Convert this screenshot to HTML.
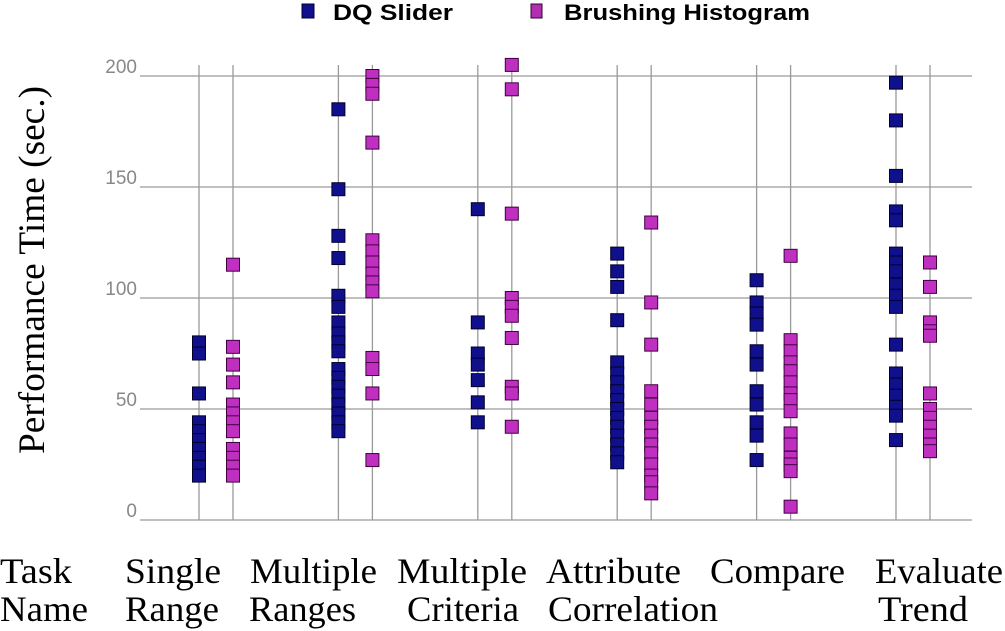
<!DOCTYPE html>
<html><head><meta charset="utf-8"><style>
html,body{margin:0;padding:0;background:#fff;}
svg{display:block;}
</style></head><body>
<svg id="chart" width="1005" height="631" xmlns="http://www.w3.org/2000/svg">
<g id="legend">
  <rect x="302" y="4" width="12" height="14" fill="#10108c" stroke="#000033"/>
  <text x="333" y="20" font-family="Liberation Sans, sans-serif" font-weight="bold" font-size="22" textLength="120" lengthAdjust="spacingAndGlyphs">DQ Slider</text>
  <rect x="531" y="4" width="11" height="14" fill="#b030b0" stroke="#330033"/>
  <text x="564" y="20" font-family="Liberation Sans, sans-serif" font-weight="bold" font-size="22" textLength="246" lengthAdjust="spacingAndGlyphs">Brushing Histogram</text>
</g>
<g id="grid"></g>
<g id="marks"></g>
<text transform="translate(44,270) rotate(-90)" text-anchor="middle" font-family="Liberation Serif, serif" font-size="37" textLength="368" lengthAdjust="spacingAndGlyphs">Performance Time (sec.)</text>
<g id="xlabels" font-family="Liberation Serif, serif" font-size="36"></g>
</svg>
<script>
const categories = ["Single Range","Multiple Ranges","Multiple Criteria","Attribute Correlation","Compare","Evaluate Trend"];
const yTicks = [0,50,100,150,200];
const dqSlider = [
  [80,75,57,44,40,36,32,28,24,20],
  [185,149,128,118,101,96,89,84,80,76,68,64,60,56,52,48,44,40],
  [140,89,75,70,63,53,44],
  [120,112,105,90,71,66,62,58,54,50,46,42,38,34,30,26],
  [108,98,93,88,76,70,58,52,44,38,27],
  [197,180,155,139,135,120,116,112,106,101,96,79,66,61,56,51,47,36]
];
const brushingHistogram = [
  [115,78,70,62,52,48,44,40,32,28,24,20],
  [200,196,192,170,126,121,116,111,107,103,73,68,57,27],
  [205,194,138,100,96,92,82,60,57,42],
  [134,98,79,58,52,46,42,38,34,30,25,20,17,12],
  [119,81,76,71,67,62,57,54,49,39,34,28,25,22,6],
  [116,105,89,85,83,57,50,46,42,38,34,31]
];
const labelLine1 = ["Single","Multiple","Multiple","Attribute","Compare","Evaluate"];
const labelLine2 = ["Range","Ranges","Criteria","Correlation","","Trend"];

const NS="http://www.w3.org/2000/svg";
const y0=520, yTop=76, vMax=200;
function yScale(v){return y0-(v/vMax)*(y0-yTop);}
const firstX=199, catStep=139.4, pairGap=34;
function xScale(ci,series){return firstX+ci*catStep+series*pairGap;}
function mk(tag,attrs,parent){const e=document.createElementNS(NS,tag);for(const k in attrs)e.setAttribute(k,attrs[k]);parent.appendChild(e);return e;}

const grid=document.getElementById('grid');
yTicks.forEach(t=>{
  const l=mk('line',{x1:140,x2:972,y1:yScale(t),y2:yScale(t),stroke:'#9a9a9a','stroke-width':1.3},grid);
  
  
  const tx=mk('text',{x:137,y:yScale(t)-3,'text-anchor':'end','font-family':'Liberation Sans, sans-serif','font-size':19,fill:'#888'},grid);
  tx.textContent=t;
  
  
});
categories.forEach((c,ci)=>{
  [0,1].forEach(s=>{
    const x=xScale(ci,s);
    const l=mk('line',{x1:x,x2:x,y1:65,y2:y0,stroke:'#9a9a9a','stroke-width':1.3},grid);
    
    
  });
});
const marks=document.getElementById('marks');
const series=[{data:dqSlider,fill:'#10108c',stroke:'#00002a',name:'dq-slider-point'},{data:brushingHistogram,fill:'#c030c0',stroke:'#400040',name:'brushing-histogram-point'}];
series.forEach((s,si)=>{
  s.data.forEach((vals,ci)=>{
    vals.forEach(v=>{
      const r=mk('rect',{x:xScale(ci,si)-6.5,y:yScale(v)-6.5,width:13,height:13,fill:s.fill,stroke:s.stroke,'stroke-width':1},marks);
      
      
    });
  });
});
const xl=document.getElementById('xlabels');
const l1w=[96,127,130,135,135,128], l2w=[94,107,112,170,0,90];
const l1x=[125,250,397,546,710,875], l2x=[125,249,407,548,0,878];
function addText(str,x,y,w,name){
  const t=mk('text',{x:x,y:y,textLength:w,lengthAdjust:'spacingAndGlyphs'},xl);
  t.textContent=str;
  
  
}
addText('Task',0,583,72,'x-axis-title-line1');
addText('Name',0,621,88,'x-axis-title-line2');
categories.forEach((c,ci)=>{
  addText(labelLine1[ci],l1x[ci],583,l1w[ci],'category-label');
  if(labelLine2[ci]) addText(labelLine2[ci],l2x[ci],621,l2w[ci],'category-label');
});
</script>
</body></html>
